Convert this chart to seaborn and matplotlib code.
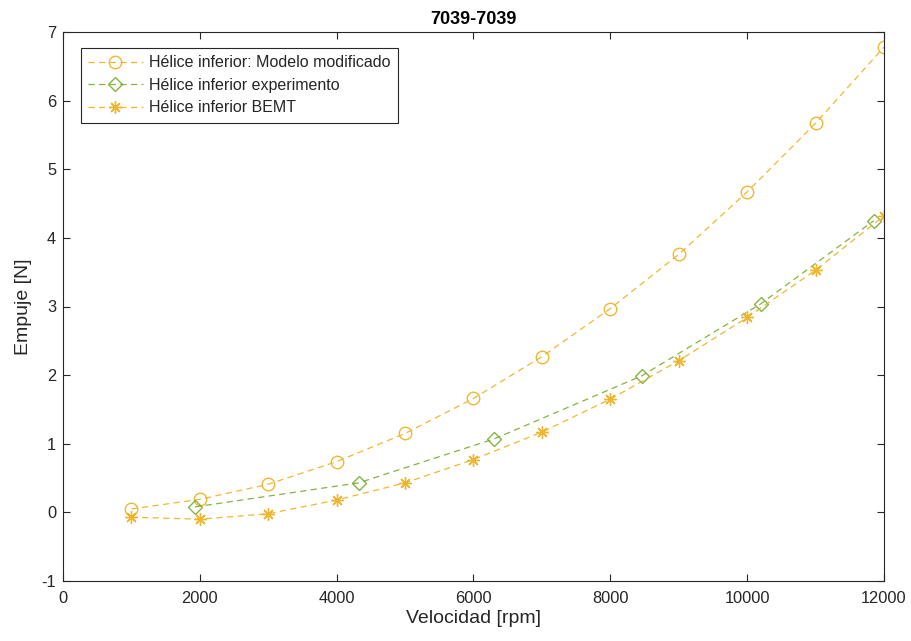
import matplotlib
matplotlib.use("Agg")
import matplotlib.pyplot as plt
import seaborn as sns
import pandas as pd

# ---- data ----
rpm_model = [1000, 2000, 3000, 4000, 5000, 6000, 7000, 8000, 9000, 10000, 11000, 12000]
thrust_model = [0.05, 0.19, 0.41, 0.74, 1.15, 1.66, 2.27, 2.97, 3.76, 4.67, 5.67, 6.78]

rpm_exp = [1930, 4320, 6300, 8460, 10200, 11850]
thrust_exp = [0.08, 0.43, 1.07, 1.99, 3.04, 4.25]

rpm_bemt = [1000, 2000, 3000, 4000, 5000, 6000, 7000, 8000, 9000, 10000, 11000, 12000]
thrust_bemt = [-0.07, -0.10, -0.02, 0.18, 0.43, 0.77, 1.17, 1.65, 2.21, 2.84, 3.53, 4.32]

labels = ["Hélice inferior: Modelo modificado", "Hélice inferior experimento", "Hélice inferior BEMT"]
title = "7039-7039"
xlabel = "Velocidad [rpm]"
ylabel = "Empuje [N]"
xticks = [0, 2000, 4000, 6000, 8000, 10000, 12000]
yticks = [-1, 0, 1, 2, 3, 4, 5, 6, 7]

yellow = "#EDB120"
green = "#77AC30"

sns.set_style("white")
plt.rcParams["font.family"] = ["Liberation Sans", "DejaVu Sans"]

fig = plt.figure(figsize=(9.12, 6.41), dpi=100)
ax = fig.add_axes([63/912, 1-581/641, (884-63)/912, (581-32)/641])

df_m = pd.DataFrame({"x": rpm_model, "y": thrust_model})
df_e = pd.DataFrame({"x": rpm_exp, "y": thrust_exp})
df_b = pd.DataFrame({"x": rpm_bemt, "y": thrust_bemt})

dash = (5, 3.5)
common = dict(ax=ax, sort=False, lw=0.9, dashes=False, linestyle="--",
              markerfacecolor="none", markeredgewidth=1.0)
sns.lineplot(data=df_m, x="x", y="y", color=yellow, marker="o", markersize=9,
             markeredgecolor=yellow, label=labels[0], **common)
sns.lineplot(data=df_e, x="x", y="y", color=green, marker="D", markersize=7,
             markeredgecolor=green, label=labels[1], **common)
sns.lineplot(data=df_b, x="x", y="y", color=yellow, marker=(8, 2, 0), markersize=9,
             markeredgecolor=yellow, label=labels[2], **common)
for ln in ax.get_lines():
    ln.set_dashes(dash)
    ln.set_alpha(0.9)

ax.set_xlim(0, 12000)
ax.set_ylim(-1, 7)
ax.set_xticks(xticks)
ax.set_yticks(yticks)
ax.set_xticklabels([str(t) for t in xticks])
ax.set_yticklabels([str(t) for t in yticks])
ax.tick_params(direction="in", length=5, width=0.8, colors="#262626", labelsize=11.8,
               top=True, right=True, bottom=True, left=True)
ax.tick_params(axis="x", pad=7)
ax.tick_params(axis="y", pad=5)
for s in ax.spines.values():
    s.set_visible(True)
    s.set_color("#262626")
    s.set_linewidth(0.8)

ax.set_xlabel(xlabel, fontsize=14, color="#262626", labelpad=3)
ax.set_ylabel(ylabel, fontsize=14, color="#262626", labelpad=7)
ax.set_title(title, fontsize=13, fontweight="bold", color="black", pad=6)

leg = ax.legend(loc="upper left", bbox_to_anchor=(0.022, 0.971), fontsize=11.5,
                frameon=True, fancybox=False, framealpha=1, edgecolor="#262626",
                handlelength=3.4, handletextpad=0.4, borderpad=0.45, labelspacing=0.48,
                borderaxespad=0)
leg.get_frame().set_linewidth(0.8)

fig.savefig("out.png", dpi=100)
